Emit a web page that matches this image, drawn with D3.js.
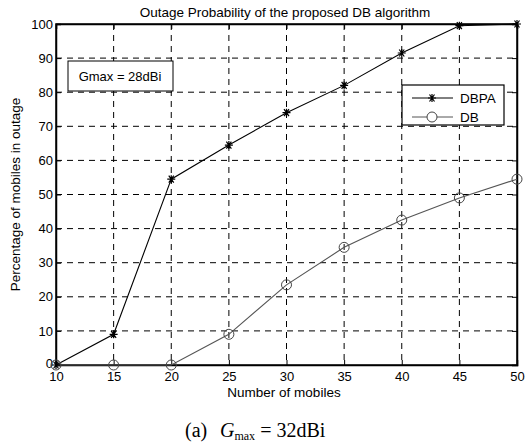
<!DOCTYPE html>
<html>
<head>
<meta charset="utf-8">
<script src="https://cdn.jsdelivr.net/npm/d3@7"></script>
<style>
  body { margin: 0; background: #fff; }
  text { font-family: "Liberation Sans", Arial, sans-serif; }
</style>
</head>
<body>
<svg id="chart" width="526" height="446"></svg>
<script>
const mobiles = [10, 15, 20, 25, 30, 35, 40, 45, 50];
const dbpa = [0, 9, 54.5, 64.5, 74, 82, 91.5, 99.5, 100];
const db = [0, 0, 0, 9, 23.5, 34.5, 42.5, 49, 54.5];
const xTicks = [10, 15, 20, 25, 30, 35, 40, 45, 50];
const yTicks = [0, 10, 20, 30, 40, 50, 60, 70, 80, 90, 100];

const svg = d3.select("#chart");
const pL = 56, pR = 517, pT = 24, pB = 365;

const xscale = d3.scaleLinear([10, 50], [pL, pR]);
const yscale = d3.scaleLinear([0, 100], [pB, pT]);

// grid
const grid = svg.append("g");
grid.selectAll(".vg")
    .data(xTicks.slice(1, -1))
    .enter()
    .append("line")
    .attr("x1", d => xscale(d)).attr("x2", d => xscale(d))
    .attr("y1", pT).attr("y2", pB)
    .attr("stroke", "#000").attr("stroke-width", 1)
    .attr("stroke-dasharray", "6,5");
grid.selectAll(".hg")
    .data(yTicks.slice(1, -1))
    .enter()
    .append("line")
    .attr("y1", d => yscale(d)).attr("y2", d => yscale(d))
    .attr("x1", pL).attr("x2", pR)
    .attr("stroke", "#000").attr("stroke-width", 1)
    .attr("stroke-dasharray", "6,5");

// axes
const xAxis = svg.append("g")
    .attr("transform", "translate(0," + pB + ")")
    .call(d3.axisBottom(xscale).tickValues(xTicks).tickSize(-5).tickPadding(4));
const xAxisTop = svg.append("g")
    .attr("transform", "translate(0," + pT + ")")
    .call(d3.axisTop(xscale).tickValues(xTicks).tickSize(-5).tickFormat(""));
const yAxis = svg.append("g")
    .attr("transform", "translate(" + pL + ",0)")
    .call(d3.axisLeft(yscale).tickValues(yTicks).tickSize(-5).tickPadding(3));
const yAxisRight = svg.append("g")
    .attr("transform", "translate(" + pR + ",0)")
    .call(d3.axisRight(yscale).tickValues(yTicks).tickSize(-5).tickFormat(""));

[xAxis, xAxisTop, yAxis, yAxisRight].forEach(a => {
    a.select(".domain").attr("stroke", "#000").attr("stroke-width", 1.5);
    a.selectAll(".tick line").attr("stroke", "#000");
    a.selectAll("text").attr("fill", "#000").style("font-size", "13px")
        .style("font-family", '"Liberation Sans", Arial, sans-serif');
});
xAxis.selectAll("text").attr("dy", "0.95em");
// the 0 label sits a touch higher so it clears the "10" below it
yAxis.selectAll(".tick text").filter(d => d === 0).attr("dy", "0.2em");

svg.append("rect")
    .attr("x", pL).attr("y", pT)
    .attr("width", pR - pL).attr("height", pB - pT)
    .attr("fill", "none").attr("stroke", "#000").attr("stroke-width", 1.5);

// lines
const line = d3.line()
    .x((d, i) => xscale(mobiles[i]))
    .y(d => yscale(d));

svg.append("path")
    .datum(db)
    .attr("d", line)
    .attr("fill", "none").attr("stroke", "#555").attr("stroke-width", 1.1);

svg.append("path")
    .datum(dbpa)
    .attr("d", line)
    .attr("fill", "none").attr("stroke", "#000").attr("stroke-width", 1.1);

const star = "M-4,0L4,0M-2.5,-3.5L2.5,3.5M-2.5,3.5L2.5,-3.5M0,-4L0,4";

svg.selectAll(".dbMark")
    .data(db)
    .enter()
    .append("circle")
    .attr("class", "dbMark")
    .attr("cx", (d, i) => xscale(mobiles[i]))
    .attr("cy", d => yscale(d))
    .attr("r", 5)
    .attr("fill", "none").attr("stroke", "#444").attr("stroke-width", 1);

svg.selectAll(".dbpaMark")
    .data(dbpa)
    .enter()
    .append("path")
    .attr("class", "dbpaMark")
    .attr("d", star)
    .attr("transform", (d, i) => "translate(" + xscale(mobiles[i]) + "," + yscale(d) + ")")
    .attr("stroke", "#000").attr("stroke-width", 1.2);

// title and labels
svg.append("text")
    .attr("x", 285).attr("y", 17)
    .attr("text-anchor", "middle").style("font-size", "13.5px")
    .text("Outage Probability of the proposed DB algorithm");

svg.append("text")
    .attr("x", 284).attr("y", 397)
    .attr("text-anchor", "middle").style("font-size", "13.5px")
    .text("Number of mobiles");

svg.append("text")
    .attr("transform", "translate(20," + ((pT + pB) / 2) + ") rotate(-90)")
    .attr("text-anchor", "middle").style("font-size", "13.5px")
    .text("Percentage of mobiles in outage");

// annotation box
svg.append("rect")
    .attr("x", 68).attr("y", 61).attr("width", 105).attr("height", 30)
    .attr("fill", "#fff").attr("stroke", "#000").attr("stroke-width", 1);
svg.append("text")
    .attr("x", 120).attr("y", 81).attr("text-anchor", "middle")
    .style("font-size", "13px")
    .text("Gmax = 28dBi");

// legend
const leg = svg.append("g");
leg.append("rect")
    .attr("x", 402).attr("y", 85).attr("width", 102).attr("height", 40)
    .attr("fill", "#fff").attr("stroke", "#000").attr("stroke-width", 1.2);
leg.append("line").attr("x1", 412).attr("x2", 453).attr("y1", 98).attr("y2", 98)
    .attr("stroke", "#000");
leg.append("path").attr("d", star).attr("transform", "translate(432,98)")
    .attr("stroke", "#000").attr("stroke-width", 1.2);
leg.append("text").attr("x", 460).attr("y", 103).style("font-size", "13.5px").text("DBPA");
leg.append("line").attr("x1", 412).attr("x2", 453).attr("y1", 117).attr("y2", 117)
    .attr("stroke", "#555");
leg.append("circle").attr("cx", 432).attr("cy", 117).attr("r", 5)
    .attr("fill", "#fff").attr("stroke", "#444");
leg.append("text").attr("x", 460).attr("y", 122).style("font-size", "13.5px").text("DB");

// caption
const capFont = '"Liberation Serif", "Times New Roman", serif';
svg.append("text")
    .attr("x", 185).attr("y", 437)
    .style("font-family", capFont).style("font-size", "20px")
    .text("(a)");
const cap = svg.append("text")
    .attr("x", 220).attr("y", 437)
    .style("font-family", capFont).style("font-size", "20px");
cap.append("tspan").style("font-style", "italic").text("G");
cap.append("tspan").attr("dy", 3).style("font-size", "12px").text("max");
cap.append("tspan").attr("dy", -3).text(" = 32dBi");
</script>
</body>
</html>
